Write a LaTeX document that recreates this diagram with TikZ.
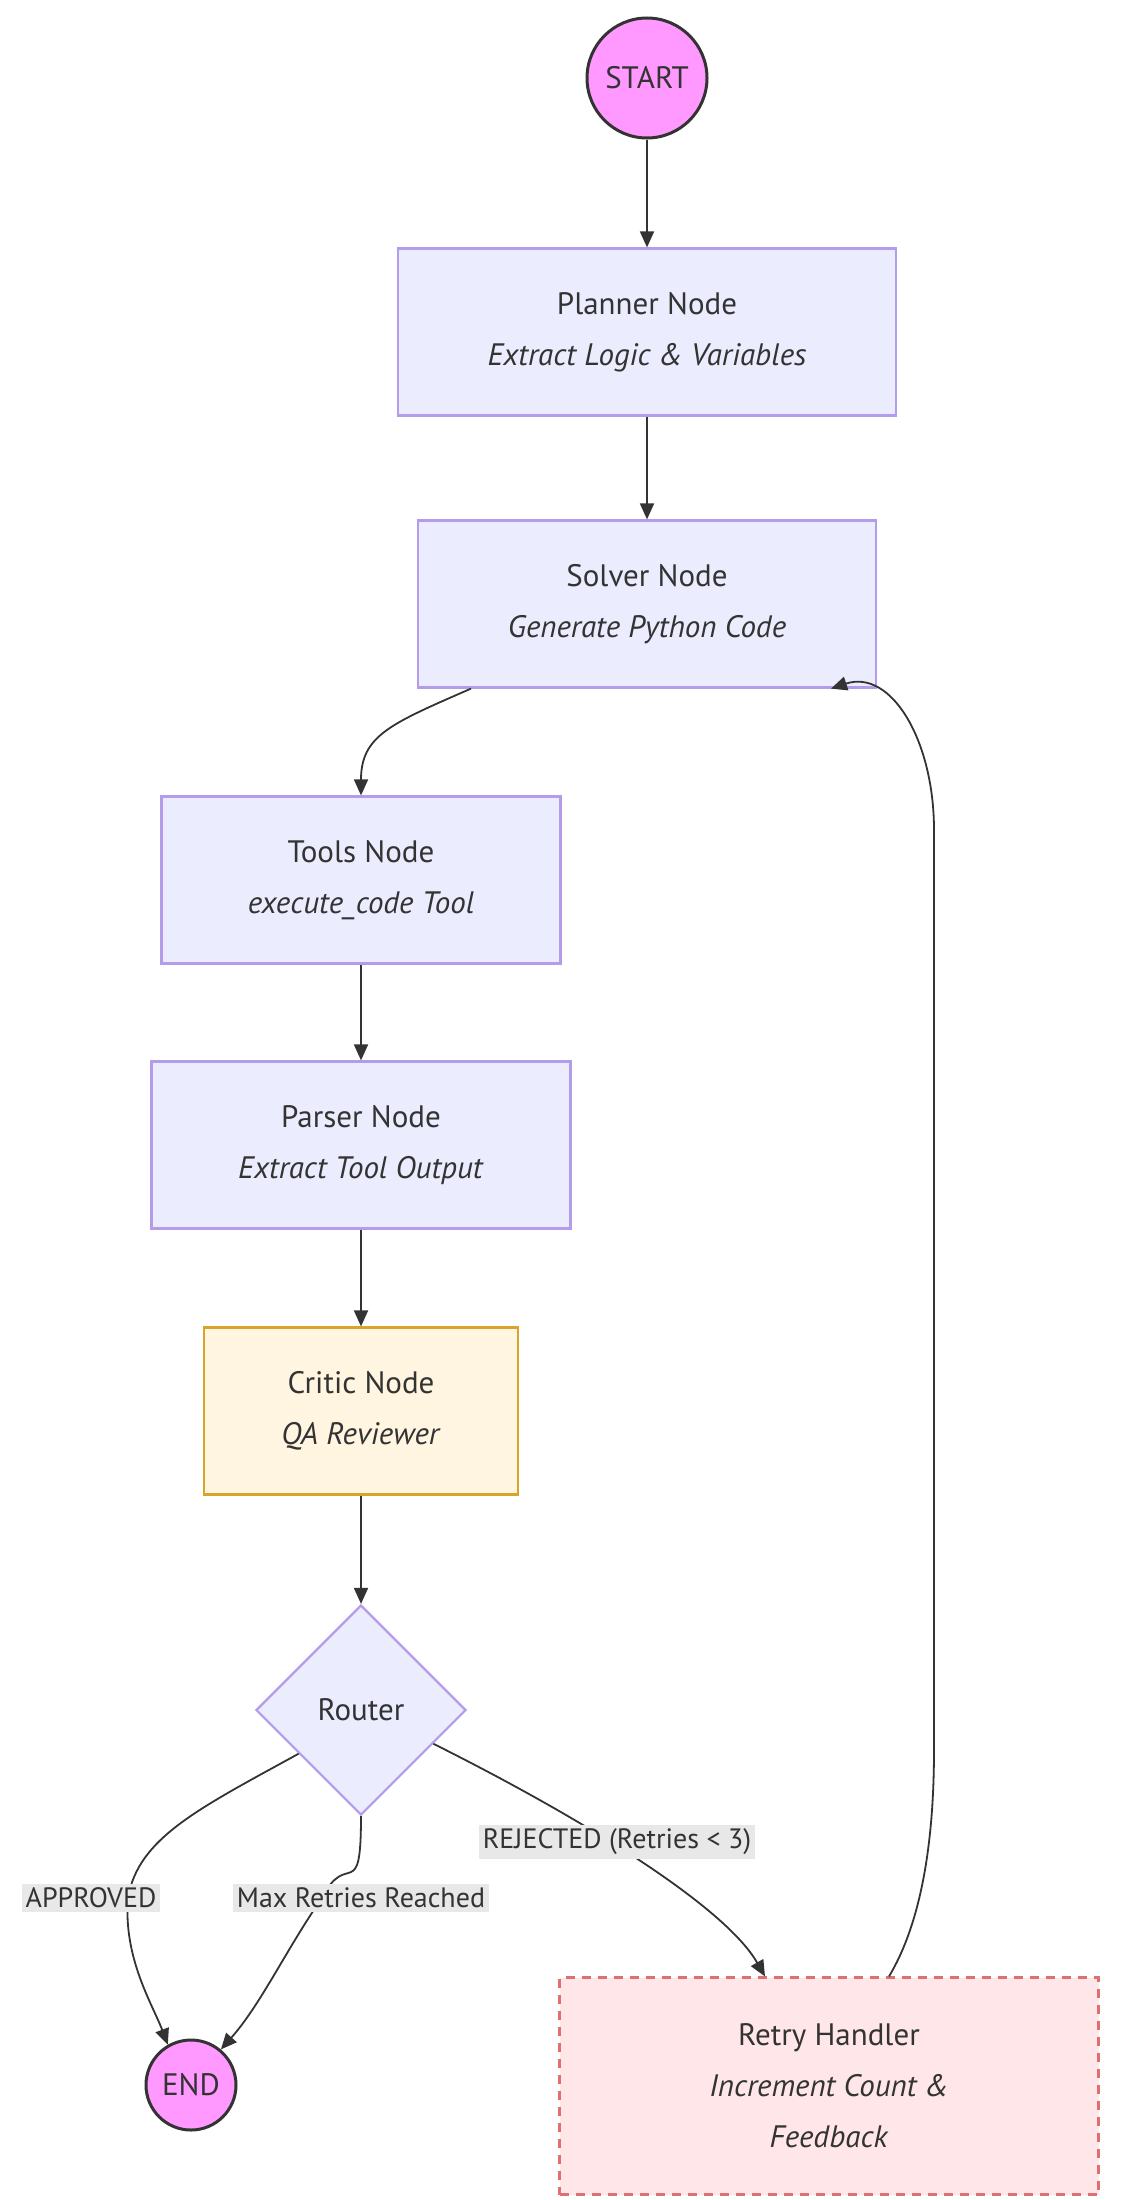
\documentclass[tikz,border=0pt]{standalone}
\usepackage{fontspec}
\setmainfont{PT Sans}
\usetikzlibrary{shapes.geometric,arrows.meta}
\definecolor{boxfill}{HTML}{ECECFF}
\definecolor{boxline}{HTML}{B39DEB}
\definecolor{critfill}{HTML}{FFF5E0}
\definecolor{critline}{HTML}{D8A42A}
\definecolor{termfill}{HTML}{FF99FF}
\definecolor{retfill}{HTML}{FFE6E9}
\definecolor{retline}{HTML}{E07070}
\definecolor{edge}{HTML}{333333}
\definecolor{lblbg}{HTML}{E8E8E8}
\begin{document}
\begin{tikzpicture}[x=1pt,y=-1pt,
  every node/.style={font=\fontsize{31}{51}\selectfont, text=black!80, align=center},
  box/.style={draw=boxline, fill=boxfill, line width=2.2pt, minimum height=167pt, inner sep=0pt},
  term/.style={circle, draw=edge, fill=termfill, line width=3pt, inner sep=0pt},
  lbl/.style={fill=lblbg, inner sep=4pt, font=\fontsize{28}{34}\selectfont},
  arr/.style={draw=edge, line width=1.8pt, -{Triangle[length=16pt,width=14pt]}},
  ln/.style={draw=edge, line width=1.8pt}]
\useasboundingbox (0,0) rectangle (1140,2200);
\node[term, minimum size=120pt] (start) at (647,78) {START};
\node[box, minimum width=498pt] (planner) at (647,332) {Planner Node\\\textit{Extract Logic \& Variables}};
\node[box, minimum width=458pt] (solver) at (647,604) {Solver Node\\\textit{Generate Python Code}};
\node[box, minimum width=399pt] (tools) at (361,880) {Tools Node\\\textit{execute\_code Tool}};
\node[box, minimum width=419pt] (parser) at (361,1145) {Parser Node\\\textit{Extract Tool Output}};
\node[box, draw=critline, fill=critfill, minimum width=314pt] (critic) at (361,1411) {Critic Node\\\textit{QA Reviewer}};
\node[diamond, draw=boxline, fill=boxfill, line width=2.2pt, minimum width=210pt, minimum height=210pt, inner sep=0pt] (router) at (361,1710) {Router};
\node[term, minimum size=90pt] (end) at (191,2085) {END};
\node[box, draw=retline, fill=retfill, dashed, dash pattern=on 9pt off 7pt, minimum width=539pt, minimum height=217pt] (retry) at (829,2086) {Retry Handler\\\textit{Increment Count \&}\\\textit{Feedback}};
\coordinate (pa) at (128,1898);
\coordinate (pm) at (322,1898);
\coordinate (pr) at (617,1842);

\draw[arr] (start) -- (planner);
\draw[arr] (planner) -- (solver);
\draw[arr] ([xshift=-176pt]solver.south) .. controls +(-80,35) and +(0,-60) .. (tools.north);
\draw[arr] (tools) -- (parser);
\draw[arr] (parser) -- (critic);
\draw[arr] (critic) -- (router.north);
\draw[ln] (router.-145) .. controls +(-100,55) and +(10,-60) .. (pa);
\draw[arr] (pa) .. controls +(-5,60) and +(-15,-40) .. (end.120);
\draw[ln] (router.south) .. controls +(0,90) and +(25,-50) .. (pm);
\draw[arr] (pm) .. controls +(-35,50) and +(40,-45) .. (end.50);
\draw[arr] (router.-25) .. controls +(150,75) and +(-40,-70) .. ([xshift=-64pt]retry.north);
\draw[arr] ([xshift=60pt]retry.north) .. controls +(30,-50) and +(0,100) .. (934,1750) -- (934,830) .. controls +(0,-90) and +(60,-20) .. ([xshift=184pt]solver.south);
\node[lbl] (la) at (91,1898) {APPROVED};
\node[lbl] (lm) at (361,1898) {Max Retries Reached};
\node[lbl] (lr) at (pr) {REJECTED (Retries < 3)};
\end{tikzpicture}
\end{document}
